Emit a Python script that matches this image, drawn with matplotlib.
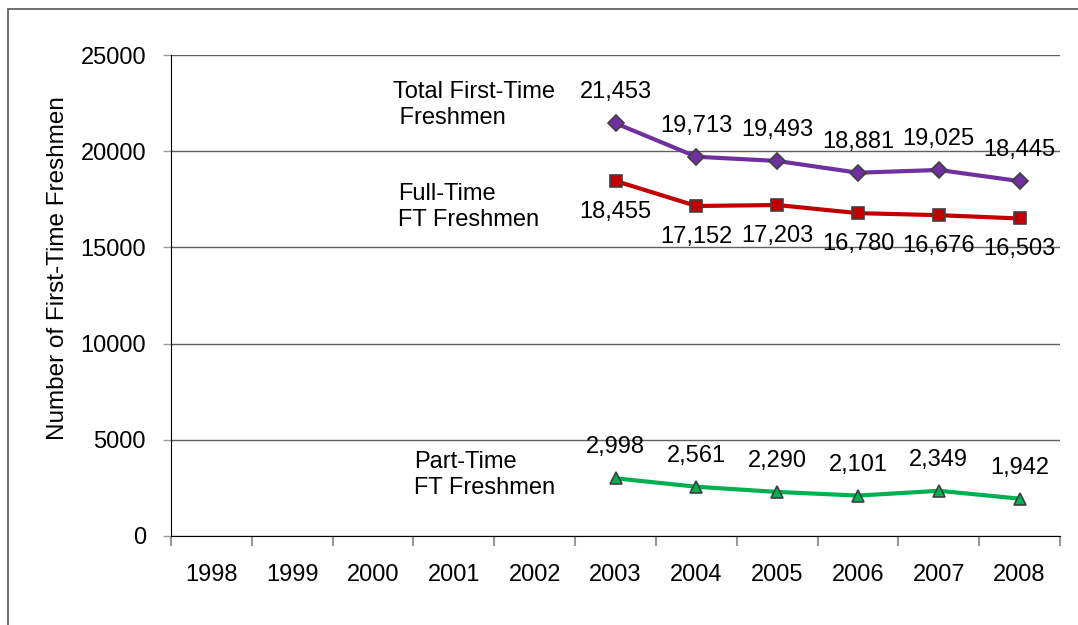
import matplotlib
matplotlib.use("Agg")
import matplotlib.pyplot as plt
from matplotlib.patches import Rectangle
import numpy as np

plt.rcParams['font.family'] = ['Liberation Sans', 'DejaVu Sans']

years = ['1998', '1999', '2000', '2001', '2002', '2003', '2004', '2005', '2006', '2007', '2008']
data_years = ['2003', '2004', '2005', '2006', '2007', '2008']
total = [21453, 19713, 19493, 18881, 19025, 18445]
full_time = [18455, 17152, 17203, 16780, 16676, 16503]
part_time = [2998, 2561, 2290, 2101, 2349, 1942]

fs = 17

fig = plt.figure(figsize=(10.78, 6.25), dpi=100)
ax = fig.add_axes([171 / 1078, 1 - 536 / 625, (1060 - 171) / 1078, (536 - 55) / 625])

# outer border of the chart area
fig.patches.append(Rectangle((8 / 1078, -0.1), 1.2, 1 - 9 / 625 + 0.1,
                             transform=fig.transFigure, fill=False,
                             edgecolor='#555555', linewidth=1.2))

xpos = [years.index(y) for y in data_years]

series = [
    (total, '#7030A0', 'D', 8, 'above'),
    (full_time, '#C00000', 's', 8, 'below'),
    (part_time, '#00B050', '^', 9, 'above'),
]
for vals, color, marker, ms, where in series:
    ax.plot(xpos, vals, color=color, linewidth=3, marker=marker, markersize=ms,
            markerfacecolor=color, markeredgecolor='#404040', markeredgewidth=1.2,
            zorder=3)
    for x, v in zip(xpos, vals):
        off = 31 if where == 'above' else -31
        ax.annotate(f"{v:,}", (x, v), xytext=(0, off), textcoords='offset pixels',
                    ha='center', va='center', fontsize=fs, color='black')

ax.text(2.25, 22400, "Total First-Time\n Freshmen", fontsize=fs, ha='left', va='center',
        linespacing=1.27)
ax.text(2.31, 17100, "Full-Time\nFT Freshmen", fontsize=fs, ha='left', va='center',
        linespacing=1.27)
ax.text(2.51, 3170, "Part-Time\nFT Freshmen", fontsize=fs, ha='left', va='center',
        linespacing=1.27)

ax.set_xlim(-0.5, len(years) - 0.5)
ax.set_ylim(0, 25000)
ax.set_yticks(np.arange(0, 25001, 5000))
ax.set_yticklabels([str(v) for v in range(0, 25001, 5000)], fontsize=fs)
ax.yaxis.grid(True, color='#606060', linewidth=1)
ax.set_axisbelow(True)

ax.set_xticks(np.arange(len(years)))
ax.set_xticklabels(years, fontsize=fs)
ax.set_xticks(np.arange(-0.5, len(years)), minor=True)
ax.tick_params(axis='x', which='major', length=0, pad=20)
ax.tick_params(axis='x', which='minor', length=7, color='#999999', width=1.5)
ax.tick_params(axis='y', length=6, color='#999999', width=1, pad=12)

for s in ['top', 'right']:
    ax.spines[s].set_visible(False)
ax.spines['left'].set_color('black')
ax.spines['bottom'].set_color('black')

ax.set_ylabel("Number of First-Time Freshmen", fontsize=17.5, labelpad=8)
ax.yaxis.label.set_y(0.557)

fig.savefig("out.png", dpi=100)
